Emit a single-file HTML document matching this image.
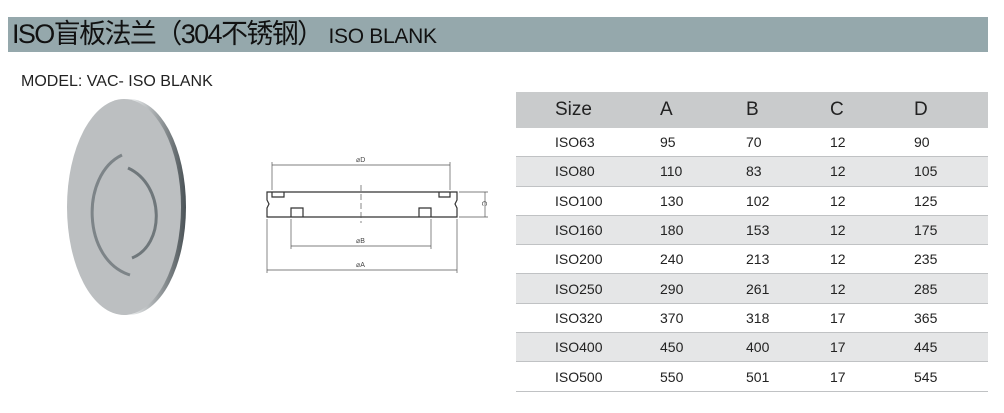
<!DOCTYPE html>
<html><head><meta charset="utf-8"><style>
body{margin:0;width:1004px;height:413px;background:#fff;position:relative;overflow:hidden;font-family:"Liberation Sans","Noto Sans CJK SC",sans-serif;}
.bar{position:absolute;left:8px;top:17px;width:980px;height:35px;background:#95a8ac;}
.title{position:absolute;left:12px;top:17px;height:35px;line-height:35px;font-size:27px;color:#111;letter-spacing:-1.6px;white-space:nowrap;}
.title span{font-size:21px;letter-spacing:-0.3px}
.model{position:absolute;left:21px;top:73px;font-size:16px;color:#222;}
table{position:absolute;left:516px;top:92px;width:472px;border-collapse:collapse;font-size:14px;color:#222;}
th{height:36px;background:#c9cbcc;font-weight:normal;font-size:19px;text-align:left;padding:0;}
td{height:28.3px;padding:0;border-bottom:1px solid #c0c2c4;}
tr.g td{background:#e5e6e7;}
td:nth-child(1),th:nth-child(1){padding-left:39px;width:105px}
td:nth-child(2),th:nth-child(2){width:86px}
td:nth-child(3),th:nth-child(3){width:84px}
td:nth-child(4),th:nth-child(4){width:84px}
</style></head><body>
<div class="bar"></div>
<div class="title">ISO盲板法兰（304不锈钢） <span>ISO BLANK</span></div>
<div class="model">MODEL: VAC- ISO BLANK</div>
<svg width="1004" height="413" style="position:absolute;left:0;top:0">
<defs><linearGradient id="e" x1="0" x2="1"><stop offset="0" stop-color="#9aa0a4"/><stop offset=".5" stop-color="#f0f2f3"/><stop offset="1" stop-color="#4a5256"/></linearGradient></defs>
<ellipse cx="129" cy="207" rx="57" ry="108" fill="url(#e)"/>
<ellipse cx="124" cy="207" rx="57" ry="108" fill="#bcbfc1"/>
<path d="M122 155 C 80 175, 82 260, 130 275" fill="none" stroke="#7d8488" stroke-width="3"/>
<path d="M128 168 C 165 185, 165 245, 132 258" fill="none" stroke="#6f777b" stroke-width="3"/>
<g stroke="#333" fill="none" stroke-width="1.2">
<path d="M267 192 H457 V200 L455 204 L457 208 V217 H267 V208 L269 204 L267 200 Z"/>
<path d="M272 192 V197 H284 V192 M439 192 V197 H450 V192"/>
<path d="M291 217 V208 H303 V217 M419 217 V208 H431 V217"/>
</g>
<g stroke="#555" stroke-width="0.7" fill="none">
<path d="M361 185 V223" stroke-dasharray="6 3"/>
<path d="M272 162 V190 M450 162 V190 M272 165 H450"/>
<path d="M291 219 V249 M431 219 V249 M291 246 H431"/>
<path d="M267 219 V273 M457 219 V273 M267 270 H457"/>
<path d="M459 192 H488 M459 217 H488 M485 192 V217"/>
</g>
<g font-size="7" fill="#444" font-family="Liberation Sans">
<text x="356" y="162">⌀D</text><text x="356" y="243">⌀B</text><text x="356" y="267">⌀A</text>
<text x="477" y="202" transform="rotate(90 480 204)">C</text></g>
</svg>
<table>
<tr><th>Size</th><th>A</th><th>B</th><th>C</th><th>D</th></tr>
<tr><td>ISO63</td><td>95</td><td>70</td><td>12</td><td>90</td></tr>
<tr class="g"><td>ISO80</td><td>110</td><td>83</td><td>12</td><td>105</td></tr>
<tr><td>ISO100</td><td>130</td><td>102</td><td>12</td><td>125</td></tr>
<tr class="g"><td>ISO160</td><td>180</td><td>153</td><td>12</td><td>175</td></tr>
<tr><td>ISO200</td><td>240</td><td>213</td><td>12</td><td>235</td></tr>
<tr class="g"><td>ISO250</td><td>290</td><td>261</td><td>12</td><td>285</td></tr>
<tr><td>ISO320</td><td>370</td><td>318</td><td>17</td><td>365</td></tr>
<tr class="g"><td>ISO400</td><td>450</td><td>400</td><td>17</td><td>445</td></tr>
<tr><td>ISO500</td><td>550</td><td>501</td><td>17</td><td>545</td></tr>
</table>
</body></html>
